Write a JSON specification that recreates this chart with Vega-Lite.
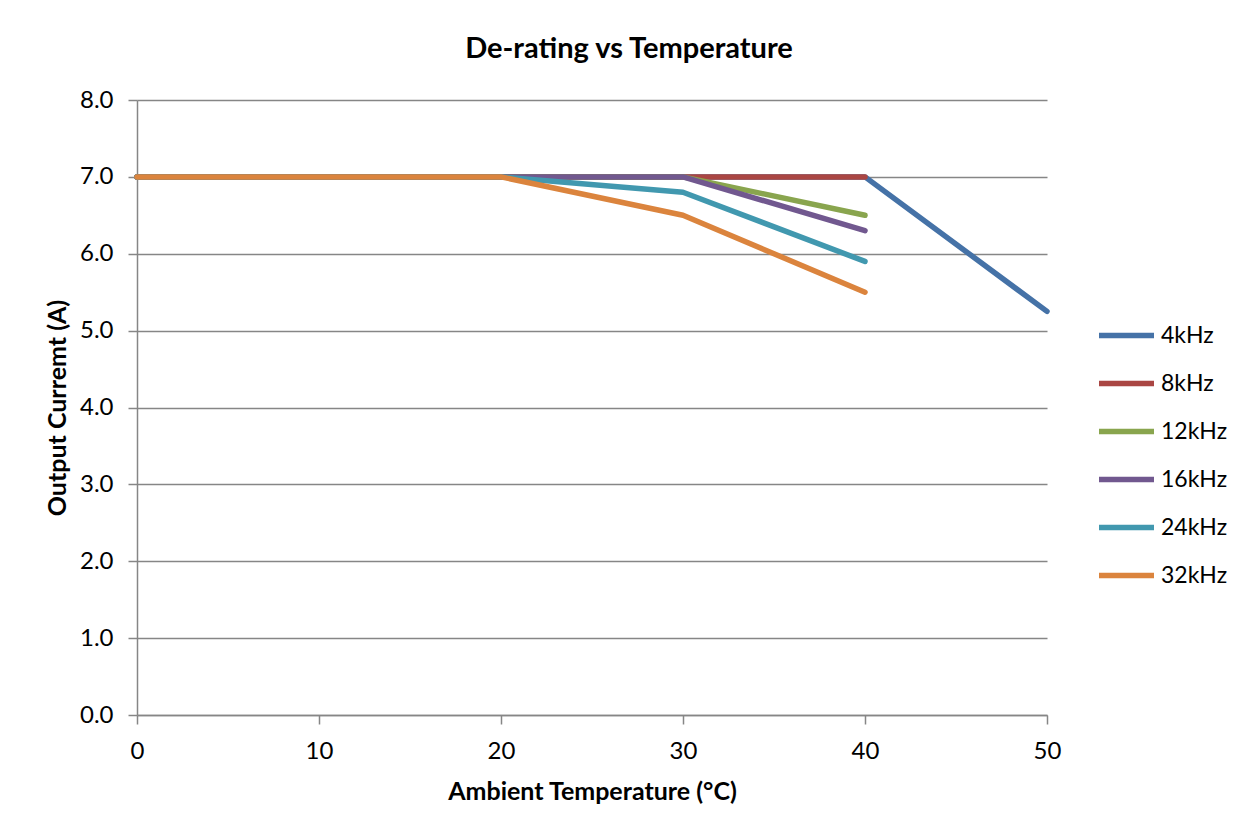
{
  "$schema": "https://vega.github.io/schema/vega-lite/v6.json",
  "width": 910,
  "height": 615,
  "autosize": {"type": "none"},
  "padding": {"left": 137, "top": 100, "right": 197, "bottom": 121},
  "background": "white",
  "title": {
    "text": "De-rating vs Temperature",
    "font": "Lato",
    "fontSize": 29,
    "fontWeight": "bold",
    "color": "#000000",
    "anchor": "middle",
    "dx": 37,
    "offset": 24
  },
  "data": {
    "values": [
      {"freq": "4kHz", "temp": 0, "current": 7.0},
      {"freq": "4kHz", "temp": 10, "current": 7.0},
      {"freq": "4kHz", "temp": 20, "current": 7.0},
      {"freq": "4kHz", "temp": 30, "current": 7.0},
      {"freq": "4kHz", "temp": 40, "current": 7.0},
      {"freq": "4kHz", "temp": 50, "current": 5.25},
      {"freq": "8kHz", "temp": 0, "current": 7.0},
      {"freq": "8kHz", "temp": 10, "current": 7.0},
      {"freq": "8kHz", "temp": 20, "current": 7.0},
      {"freq": "8kHz", "temp": 30, "current": 7.0},
      {"freq": "8kHz", "temp": 40, "current": 7.0},
      {"freq": "12kHz", "temp": 0, "current": 7.0},
      {"freq": "12kHz", "temp": 10, "current": 7.0},
      {"freq": "12kHz", "temp": 20, "current": 7.0},
      {"freq": "12kHz", "temp": 30, "current": 7.0},
      {"freq": "12kHz", "temp": 40, "current": 6.5},
      {"freq": "16kHz", "temp": 0, "current": 7.0},
      {"freq": "16kHz", "temp": 10, "current": 7.0},
      {"freq": "16kHz", "temp": 20, "current": 7.0},
      {"freq": "16kHz", "temp": 30, "current": 7.0},
      {"freq": "16kHz", "temp": 40, "current": 6.3},
      {"freq": "24kHz", "temp": 0, "current": 7.0},
      {"freq": "24kHz", "temp": 10, "current": 7.0},
      {"freq": "24kHz", "temp": 20, "current": 7.0},
      {"freq": "24kHz", "temp": 30, "current": 6.8},
      {"freq": "24kHz", "temp": 40, "current": 5.9},
      {"freq": "32kHz", "temp": 0, "current": 7.0},
      {"freq": "32kHz", "temp": 10, "current": 7.0},
      {"freq": "32kHz", "temp": 20, "current": 7.0},
      {"freq": "32kHz", "temp": 30, "current": 6.5},
      {"freq": "32kHz", "temp": 40, "current": 5.5}
    ]
  },
  "mark": {"type": "line", "strokeWidth": 5.5, "strokeCap": "round", "strokeJoin": "round"},
  "encoding": {
    "x": {
      "field": "temp",
      "type": "quantitative",
      "scale": {"domain": [0, 50], "nice": false, "zero": false},
      "axis": {
        "title": "Ambient Temperature (°C)",
        "values": [0, 10, 20, 30, 40, 50],
        "grid": false,
        "labelFlush": false,
        "tickSize": 9,
        "labelPadding": 15,
        "titlePadding": 16
      }
    },
    "y": {
      "field": "current",
      "type": "quantitative",
      "scale": {"domain": [0, 8], "nice": false},
      "axis": {
        "title": "Output Curremt (A)",
        "values": [0, 1, 2, 3, 4, 5, 6, 7, 8],
        "format": ".1f",
        "grid": true,
        "labelFlush": false,
        "tickSize": 9,
        "labelPadding": 15,
        "titlePadding": 9
      }
    },
    "color": {
      "field": "freq",
      "type": "nominal",
      "scale": {
        "domain": ["4kHz", "8kHz", "12kHz", "16kHz", "24kHz", "32kHz"],
        "range": ["#4572A7", "#AA4643", "#89A54E", "#71588F", "#4198AF", "#DB843D"]
      },
      "legend": {
        "title": null,
        "orient": "none",
        "legendX": 959,
        "legendY": 205,
        "symbolType": "stroke",
        "symbolSize": 3025,
        "symbolStrokeWidth": 5.5,
        "rowPadding": 5,
        "labelOffset": 4,
        "labelFont": "Lato",
        "labelFontSize": 23,
        "labelColor": "#000000"
      }
    }
  },
  "config": {
    "view": {"stroke": null},
    "axis": {
      "labelFont": "Lato",
      "labelFontSize": 24,
      "labelColor": "#000000",
      "titleFont": "Lato",
      "titleFontSize": 25,
      "titleFontWeight": "bold",
      "titleColor": "#000000",
      "domainColor": "#868686",
      "domainWidth": 1.5,
      "tickColor": "#868686",
      "tickWidth": 1.5,
      "gridColor": "#868686",
      "gridWidth": 1.5
    }
  }
}
